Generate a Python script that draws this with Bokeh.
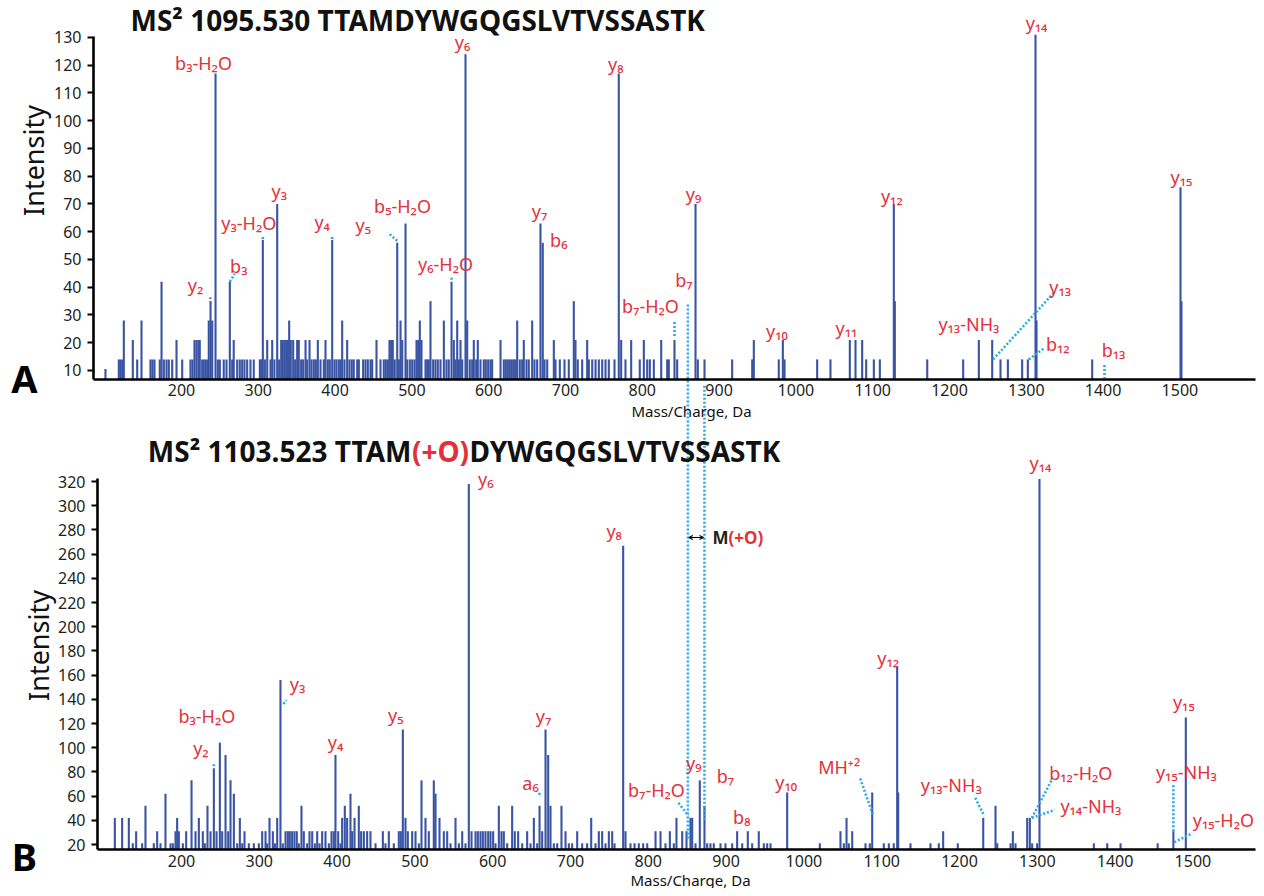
import math
from bokeh.plotting import figure
from bokeh.models import Range1d, LinearAxis, FixedTicker, Arrow, OpenHead
from bokeh.embed import file_html
from bokeh.resources import INLINE
from bokeh.core.properties import value

# ---------------- data ----------------
A_TITLE = "MS² 1095.530  TTAMDYWGQGSLVTVSSASTK"
B_TITLE_PARTS = ["MS² 1103.523 TTAM", "(+O)", "DYWGQGSLVTVSSASTK"]
X_LABEL = "Mass/Charge, Da"
Y_LABEL = "Intensity"
X_TICKS = [200, 300, 400, 500, 600, 700, 800, 900, 1000, 1100, 1200, 1300, 1400, 1500]
A_Y_TICKS = [10, 20, 30, 40, 50, 60, 70, 80, 90, 100, 110, 120, 130]
B_Y_TICKS = [20, 40, 60, 80, 100, 120, 140, 160, 180, 200, 220, 240, 260, 280, 300, 320]

A_MZ = [101.0, 118.4, 120.6, 122.8, 124.9, 136.6, 142.3, 147.9, 159.6, 162.2, 164.8, 171.7, 174.0, 177.0,
        180.5, 183.5, 187.9, 193.5, 200.9, 211.7, 214.3, 216.9, 219.5, 222.1, 223.8, 226.9, 229.0, 231.3,
        233.5, 235.5, 237.8, 240.0, 244.3, 247.3, 249.9, 255.0, 258.6, 262.9, 266.0, 268.0, 272.5, 275.9,
        279.0, 282.0, 285.5, 289.8, 294.1, 302.0, 303.8, 305.9, 308.5, 311.6, 315.9, 318.1, 321.0, 324.6,
        327.2, 329.8, 331.9, 334.1, 336.3, 338.4, 340.2, 342.3, 345.4, 348.0, 350.6, 352.7, 355.8, 358.4,
        361.5, 363.6, 366.7, 369.3, 372.3, 374.9, 377.5, 381.0, 385.3, 387.5, 390.5, 393.1, 396.2, 399.2,
        401.8, 404.8, 407.0, 409.2, 412.2, 415.7, 418.7, 421.7, 424.3, 428.8, 430.9, 436.5, 439.6, 442.6,
        446.1, 448.3, 453.9, 459.1, 463.4, 466.0, 468.6, 470.8, 473.0, 475.1, 477.7, 480.9, 483.0, 485.2,
        487.4, 491.7, 493.9, 497.3, 500.4, 503.4, 506.0, 508.2, 510.3, 512.5, 517.7, 519.9, 522.0, 524.2,
        527.7, 530.7, 533.7, 537.2, 541.6, 545.0, 548.0, 551.6, 554.6, 556.8, 559.0, 561.1, 563.3, 565.5,
        569.8, 572.0, 575.4, 578.5, 580.6, 583.7, 585.8, 589.3, 593.6, 596.2, 599.3, 602.3, 604.5, 615.4,
        619.7, 622.3, 624.9, 627.5, 630.1, 632.7, 634.9, 637.1, 640.5, 643.6, 645.7, 649.2, 652.2, 656.6,
        659.6, 663.1, 667.4, 670.4, 672.7, 676.2, 684.8, 687.0, 692.6, 698.7, 704.3, 710.8, 713.0, 716.0,
        721.7, 728.2, 730.4, 734.8, 739.1, 743.4, 747.8, 752.1, 756.4, 763.8, 769.4, 772.5, 778.1, 785.5,
        796.7, 802.0, 806.4, 809.8, 815.0, 824.6, 832.4, 834.5, 841.9, 845.4, 869.3, 872.3, 881.0, 917.0,
        943.1, 945.2, 977.7, 983.0, 985.2, 1027.7, 1045.0, 1070.2, 1077.6, 1086.3, 1091.5, 1101.5, 1109.3,
        1127.5, 1128.8, 1171.0, 1217.8, 1238.2, 1255.6, 1266.4, 1276.0, 1294.6, 1302.0, 1312.0, 1313.3,
        1385.8, 1500.8, 1502.0]
A_INT = [10.5, 14, 14, 14, 28, 21, 14, 28, 14, 14, 14, 14, 42, 14,
         14, 14, 14, 21, 14, 14, 14, 21, 21, 21, 21, 14, 14, 14,
         14, 28, 35, 28, 117, 14, 14, 14, 14, 42, 14, 21, 14, 14,
         14, 14, 14, 14, 14, 14, 14, 57, 14, 21, 14, 21, 14, 70,
         14, 21, 21, 21, 21, 21, 28, 21, 21, 14, 21, 21, 14, 14,
         21, 14, 21, 14, 14, 14, 21, 14, 14, 21, 14, 14, 57, 14,
         14, 14, 14, 28, 14, 21, 14, 14, 14, 14, 14, 14, 14, 14,
         14, 14, 21, 14, 14, 14, 14, 21, 21, 21, 14, 56, 14, 28,
         21, 63, 14, 14, 14, 14, 21, 21, 28, 21, 14, 14, 14, 35,
         14, 14, 14, 14, 28, 14, 14, 42, 21, 14, 28, 14, 21, 14,
         124, 28, 14, 14, 21, 14, 21, 14, 14, 14, 14, 14, 14, 21,
         14, 14, 14, 14, 14, 14, 14, 28, 14, 14, 21, 14, 14, 28,
         14, 14, 63, 56, 14, 14, 21, 14, 14, 14, 14, 35, 21, 14,
         14, 21, 14, 14, 14, 14, 14, 14, 14, 14, 117, 21, 14, 21,
         14, 21, 14, 14, 14, 21, 14, 14, 21, 14, 70, 14, 14, 14,
         14, 21, 14, 21, 14, 14, 14, 21, 21, 21, 14, 14, 14,
         70, 35, 14, 14, 21, 21, 14, 14, 14, 14, 131, 28,
         14, 76, 35]

B_MZ = [114.3, 123.7, 132.3, 137.4, 141.7, 149.4, 153.7, 164.4, 168.7, 173.0, 179.4, 185.9, 188.9, 192.3,
        194.4, 196.6, 201.7, 206.0, 212.9, 218.0, 222.3, 227.4, 230.0, 233.4, 237.3, 241.6, 245.0, 249.3,
        252.3, 256.6, 260.0, 263.0, 267.3, 271.6, 275.0, 278.0, 281.0, 286.5, 293.0, 299.4, 303.7, 308.0,
        310.1, 313.1, 317.4, 320.0, 323.0, 327.2, 330.2, 333.7, 336.7, 339.2, 342.2, 345.2, 348.2, 350.8,
        354.2, 357.2, 361.5, 364.5, 368.0, 371.4, 374.4, 377.4, 380.8, 385.1, 389.4, 392.8, 395.8, 397.9,
        401.4, 404.4, 406.5, 409.9, 412.9, 417.2, 419.4, 422.4, 427.9, 430.9, 434.4, 438.6, 442.9, 449.4,
        458.8, 462.2, 466.5, 472.9, 479.3, 481.9, 484.5, 487.9, 490.9, 496.5, 500.8, 505.1, 508.5, 513.6,
        517.9, 524.3, 526.5, 531.6, 537.2, 541.5, 545.8, 552.2, 556.5, 560.8, 565.0, 569.3, 572.8, 577.9,
        580.9, 584.3, 587.3, 590.7, 594.2, 597.2, 600.6, 603.6, 607.9, 611.3, 614.3, 618.6, 625.0, 628.4,
        632.7, 637.9, 644.3, 648.6, 652.9, 657.2, 660.2, 663.6, 667.9, 671.3, 674.3, 678.6, 682.9, 688.4,
        693.6, 697.9, 702.1, 708.6, 715.0, 721.4, 726.6, 732.1, 736.4, 740.7, 745.0, 749.3, 753.6, 756.6,
        767.7, 770.7, 777.1, 782.3, 787.8, 793.4, 798.6, 809.3, 815.7, 822.1, 827.7, 832.8, 836.2, 843.6,
        849.1, 854.2, 856.4, 860.7, 866.2, 872.2, 875.7, 879.9, 884.2, 892.8, 899.2, 907.8, 914.2, 920.7,
        927.9, 933.5, 942.0, 948.5, 952.8, 957.1, 978.5, 1020.5, 1047.0, 1051.3, 1054.8, 1057.7, 1062.1,
        1079.2, 1084.7, 1087.8, 1102.7, 1109.2, 1115.5, 1119.9, 1121.2, 1137.0, 1162.7, 1173.4, 1179.0,
        1197.8, 1230.5, 1246.3, 1248.5, 1265.6, 1268.6, 1272.0, 1287.0, 1290.4, 1293.4, 1299.8, 1302.8,
        1372.7, 1389.9, 1407.0, 1454.7, 1474.9, 1490.9]
B_INT = [42, 42, 42, 21, 31, 21, 52, 21, 31, 21, 62, 21, 21, 31,
         42, 31, 21, 31, 73, 31, 42, 31, 21, 52, 31, 83, 31, 104,
         31, 94, 31, 73, 62, 21, 42, 21, 31, 21, 21, 21, 31, 31,
         21, 42, 31, 21, 42, 156, 21, 31, 31, 31, 31, 31, 31, 21,
         52, 31, 21, 31, 31, 21, 31, 21, 31, 31, 21, 31, 31, 94,
         31, 21, 42, 52, 42, 62, 31, 42, 52, 31, 31, 31, 31, 21,
         31, 21, 31, 21, 31, 31, 115, 42, 31, 31, 31, 21, 73, 42,
         31, 73, 62, 42, 31, 31, 21, 42, 21, 31, 21, 318, 31, 31,
         31, 31, 31, 31, 31, 31, 31, 21, 52, 31, 31, 21, 52, 31,
         31, 21, 31, 21, 42, 21, 52, 31, 115, 94, 52, 21, 21, 52,
         31, 21, 21, 31, 21, 21, 42, 21, 31, 31, 21, 31, 31, 21,
         267, 31, 21, 21, 21, 21, 21, 31, 31, 21, 31, 21, 42, 31,
         31, 42, 42, 21, 73, 52, 21, 21, 21, 21, 21, 21, 31, 21,
         31, 21, 31, 21, 21, 21, 63, 21, 31, 21, 42, 21, 31,
         21, 21, 63, 21, 21, 21, 167, 63, 21, 21, 21, 31,
         21, 42, 52, 21, 21, 31, 21, 42, 42, 21, 21, 322,
         21, 21, 21, 21, 31, 125]

# annotated ions: label, m/z, intensity of the peak they point at
A_ION_TEXT = ["b₃-H₂O", "y₆", "y₈", "y₁₄", "y₃", "y₃-H₂O", "y₄", "y₅", "b₅-H₂O", "y₆-H₂O", "b₃", "y₂",
              "y₇", "b₆", "y₉", "b₇", "b₇-H₂O", "y₁₀", "y₁₁", "y₁₂", "y₁₃-NH₃", "y₁₃", "b₁₂", "b₁₃", "y₁₅"]
A_ION_MZ = [244.3, 569.8, 769.4, 1312.0, 324.6, 305.9, 396.2, 480.9, 491.7, 551.6, 262.9, 237.8,
            667.4, 670.4, 869.3, 859.3, 841.9, 983.0, 1077.6, 1127.5, 1238.2, 1255.6, 1302.0, 1401.8, 1500.8]
A_ION_INT = [117, 124, 117, 131, 70, 57, 57, 56, 63, 42, 42, 35,
             63, 56, 70, 34.5, 21, 21, 21, 70, 21, 14, 14, 12, 76]

B_ION_TEXT = ["y₆", "y₈", "y₁₄", "y₁₂", "y₁₅", "y₃", "b₃-H₂O", "y₂", "y₄", "y₅", "y₇", "a₆", "y₉", "b₇",
              "b₇-H₂O", "b₈", "y₁₀", "MH⁺²", "y₁₃-NH₃", "b₁₂-H₂O", "y₁₄-NH₃", "y₁₅-NH₃", "y₁₅-H₂O"]
B_ION_MZ = [569.3, 767.7, 1302.8, 1119.9, 1490.9, 327.2, 249.3, 241.6, 397.9, 484.5, 667.9, 660.2, 866.2,
            872.2, 854.2, 927.9, 978.5, 1087.8, 1230.5, 1290.4, 1290.4, 1474.9, 1474.9]
B_ION_INT = [318, 267, 322, 167, 125, 156, 104, 83, 94, 115, 115, 52, 73,
             52, 42, 31, 63, 63, 42, 42, 42, 31, 31]

# ---------------- layout / style ----------------
W, H = 1256, 888
PAGE = 0
XR = {"A": (-35.68, 1599.74), "B": (-32.65, 1581.75)}
YR = {"A": (-176.67, 143.33), "B": (-16.36, 717.52)}
A_BASE, A_YTOP, A_XSTART, A_XEND = 6.76, 130.4, 85.4, 1599.0
B_BASE, B_YTOP, B_XSTART, B_XEND = 15.87, 322.5, 92.0, 1581.0

BAR = "#3a54a4"
RED = "#e2313b"
CYAN = "#29abe2"
FONT = "Noto Sans"

# label pixel offsets from peak tops (dx, dy; dy down)
A_ION_OFF = [(-12, -11), (-3, -12), (-3, -10), (1, -12), (2, -13), (-14, -17), (-10, -18), (-34, -18),
             (-3, -17), (-6, -18), (9, -16), (-15, -16), (-1, -12), (16, -3), (-2, -10), (-4, -23),
             (-24, -34), (-6, -9), (-9, -12), (-2, -8), (-10, -16), (68, -72), (30, -15), (9, -15), (1, -10)]
B_ION_OFF = [(17, -5), (-9, -15), (1, -16), (-9, -9), (-2, -15), (17, 4), (-13, -27), (-13, -20), (0, -13),
             (-7, -15), (-2, -14), (-9, -23), (-6, -17), (21, -30), (-34, -28), (-6, -14), (-1, -10),
             (-33, -25), (-32, -33), (51, -45), (61, -12), (13, -59), (50, -11)]
# dotted leader lines: (ion index, dx0, dy0, dx1, dy1)
A_LEAD = [(11, 0, -2, -1, -6), (10, 0, 0, 5, -8), (5, 0, -1, 0, -4), (6, 0, -1, 0, -4),
          (7, 0, -2, -9, -10), (9, 0, -2, 0, -5), (16, 0, -4, 0, -18), (21, 1, 0, 61, -66),
          (22, 1, 0, 16, -11), (23, 0, 0, 0, 13)]
B_LEAD = [(5, 3, 24, 6, 20), (7, 0, -2, 0, -5), (11, 0, -11, 0, -14), (14, -12, -15, -2, -2),
          (17, -12, -14, 1, 23), (18, -8, -20, 1, -2), (19, 2, 0, 23, -40), (20, 2, 0, 25, -8),
          (21, 0, 0, 0, -46), (22, 1, 11, 19, 2)]


def to_page(panel, x, y):
    x0, x1 = XR[panel]
    y0, y1 = YR[panel]
    return PAGE + (x - x0) / (x1 - x0) * W, PAGE + (y1 - y) / (y1 - y0) * H


def from_page(panel, px, py):
    x0, x1 = XR[panel]
    y0, y1 = YR[panel]
    return x0 + (px - PAGE) / W * (x1 - x0), y1 - (py - PAGE) / H * (y1 - y0)


p = figure(width=W, height=H, x_range=Range1d(*XR["A"]), y_range=Range1d(*YR["A"]),
           x_axis_type=None, y_axis_type=None, toolbar_location=None, output_backend="svg",
           min_border=0, title=None)
p.outline_line_color = None
p.background_fill_color = "white"
p.border_fill_color = "white"
p.extra_x_ranges = {"B": Range1d(*XR["B"])}
p.extra_y_ranges = {"B": Range1d(*YR["B"])}


def style_axis(ax, vertical):
    ax.axis_line_color = "black"
    ax.axis_line_width = 2.6
    ax.major_tick_line_color = "black"
    ax.major_tick_line_width = 2
    ax.minor_tick_line_color = None
    ax.major_tick_in = 0
    ax.major_tick_out = 6 if vertical else 0
    ax.major_label_standoff = 6 if vertical else 5
    ax.major_label_text_font = FONT
    ax.major_label_text_font_size = "16px"
    ax.major_label_text_color = "#231f20"


ay = LinearAxis(fixed_location=A_XSTART, bounds=(A_BASE, A_YTOP), ticker=FixedTicker(ticks=A_Y_TICKS))
ax = LinearAxis(fixed_location=A_BASE, bounds=(A_XSTART, A_XEND), ticker=FixedTicker(ticks=X_TICKS))
by = LinearAxis(x_range_name="B", y_range_name="B", fixed_location=B_XSTART, bounds=(B_BASE, B_YTOP),
                ticker=FixedTicker(ticks=B_Y_TICKS))
bx = LinearAxis(x_range_name="B", y_range_name="B", fixed_location=B_BASE, bounds=(B_XSTART, B_XEND),
                ticker=FixedTicker(ticks=X_TICKS))
for a, v in ((ay, True), (by, True), (ax, False), (bx, False)):
    style_axis(a, v)
p.add_layout(ay, "left")
p.add_layout(by, "left")
p.add_layout(ax, "below")
p.add_layout(bx, "below")

# spectra
p.segment(x0=A_MZ, y0=[A_BASE] * len(A_MZ), x1=A_MZ, y1=A_INT, line_color=BAR, line_width=2.1)
p.segment(x0=B_MZ, y0=[B_BASE] * len(B_MZ), x1=B_MZ, y1=B_INT, line_color=BAR, line_width=2.1,
          x_range_name="B", y_range_name="B")


def ion_positions(panel, mzs, ints, offs):
    xs, ys = [], []
    for mz, it, (dx, dy) in zip(mzs, ints, offs):
        px, py = to_page(panel, mz, it)
        x, y = from_page(panel, px + dx, py + dy)
        xs.append(x)
        ys.append(y)
    return xs, ys


def leaders(panel, mzs, ints, leads):
    x0, y0, x1, y1 = [], [], [], []
    for i, a, b, c, d in leads:
        px, py = to_page(panel, mzs[i], ints[i])
        xa, ya = from_page(panel, px + a, py + b)
        xb, yb = from_page(panel, px + c, py + d)
        x0.append(xa); y0.append(ya); x1.append(xb); y1.append(yb)
    return x0, y0, x1, y1


lx0, ly0, lx1, ly1 = leaders("A", A_ION_MZ, A_ION_INT, A_LEAD)
p.segment(x0=lx0, y0=ly0, x1=lx1, y1=ly1, line_color=CYAN, line_width=2.6, line_dash="2 2")
lx0, ly0, lx1, ly1 = leaders("B", B_ION_MZ, B_ION_INT, B_LEAD)
p.segment(x0=lx0, y0=ly0, x1=lx1, y1=ly1, line_color=CYAN, line_width=2.6, line_dash="2 2",
          x_range_name="B", y_range_name="B")

# connecting lines between the panels (b7 of A, b7 of B), drawn in A's coordinates
b7A = A_ION_TEXT.index("b₇")
b7B = B_ION_TEXT.index("b₇")
l1x, l1top = to_page("A", A_ION_MZ[b7A], A_ION_INT[b7A])
l2x, _ = to_page("B", B_ION_MZ[b7B], B_ION_INT[b7B])
_, l1bot = to_page("B", 0, 25)
_, l2top = to_page("A", 0, 4.5)
_, l2bot = to_page("B", 0, 40)
c = [from_page("A", l1x, l1top + 2), from_page("A", l1x, l1bot),
     from_page("A", l2x, l2top), from_page("A", l2x, l2bot)]
p.segment(x0=[c[0][0], c[2][0]], y0=[c[0][1], c[2][1]], x1=[c[1][0], c[3][0]], y1=[c[1][1], c[3][1]],
          line_color=CYAN, line_width=2.6, line_dash="2 2")

# M(+O) double arrow
ya_ = 537
s = from_page("A", l1x + 1, ya_)
e = from_page("A", l2x - 1, ya_)
p.add_layout(Arrow(x_start=s[0], y_start=s[1], x_end=e[0], y_end=e[1], line_color="black", line_width=1.2,
                   start=OpenHead(size=4, line_width=1.2, line_color="black"),
                   end=OpenHead(size=4, line_width=1.2, line_color="black")))
mx, my = from_page("A", l2x + 8, ya_)
p.text(x=[mx], y=[my], text=["M"], text_font=value(FONT), text_font_style="bold", text_font_size="17px",
       text_color="#231f20", text_align="left", text_baseline="middle")
mx2, _ = from_page("A", l2x + 24, ya_)
p.text(x=[mx2], y=[my], text=["(+O)"], text_font=value(FONT), text_font_style="bold",
       text_font_size="17px", text_color=RED, text_align="left", text_baseline="middle")

# ion labels
xs, ys = ion_positions("A", A_ION_MZ, A_ION_INT, A_ION_OFF)
p.text(x=xs, y=ys, text=A_ION_TEXT, text_font=value(FONT), text_font_size="18px", text_color=RED,
       text_align="center", text_baseline="middle")
xs, ys = ion_positions("B", B_ION_MZ, B_ION_INT, B_ION_OFF)
p.text(x=xs, y=ys, text=B_ION_TEXT, text_font=value(FONT), text_font_size="18px", text_color=RED,
       text_align="center", text_baseline="middle", x_range_name="B", y_range_name="B")


def page_text(px, py, txt, size, color="#111111", bold=False, align="left", angle=0.0):
    x, y = from_page("A", px, py)
    p.text(x=[x], y=[y], text=[txt], text_font=value(FONT), text_font_size=size, text_color=color,
           text_font_style="bold" if bold else "normal", text_align=align, text_baseline="middle",
           angle=angle)


# titles
page_text(130, 19, A_TITLE, "28px", bold=True)
page_text(411, 450, B_TITLE_PARTS[0], "28px", bold=True, align="right")
page_text(440, 450, B_TITLE_PARTS[1], "28px", color=RED, bold=True, align="center")
page_text(469, 450, B_TITLE_PARTS[2], "28px", bold=True)
# axis titles
page_text(691, 410, X_LABEL, "15px", align="center")
page_text(690, 879, X_LABEL, "15px", align="center")
page_text(33, 160, Y_LABEL, "27px", align="center", angle=math.pi / 2)
page_text(38, 645, Y_LABEL, "27px", align="center", angle=math.pi / 2)
# panel letters
page_text(24, 377, "A", "38px", color="black", bold=True, align="center")
page_text(24, 855, "B", "38px", color="black", bold=True, align="center")

open("out.html", "w").write(file_html(p, INLINE))
